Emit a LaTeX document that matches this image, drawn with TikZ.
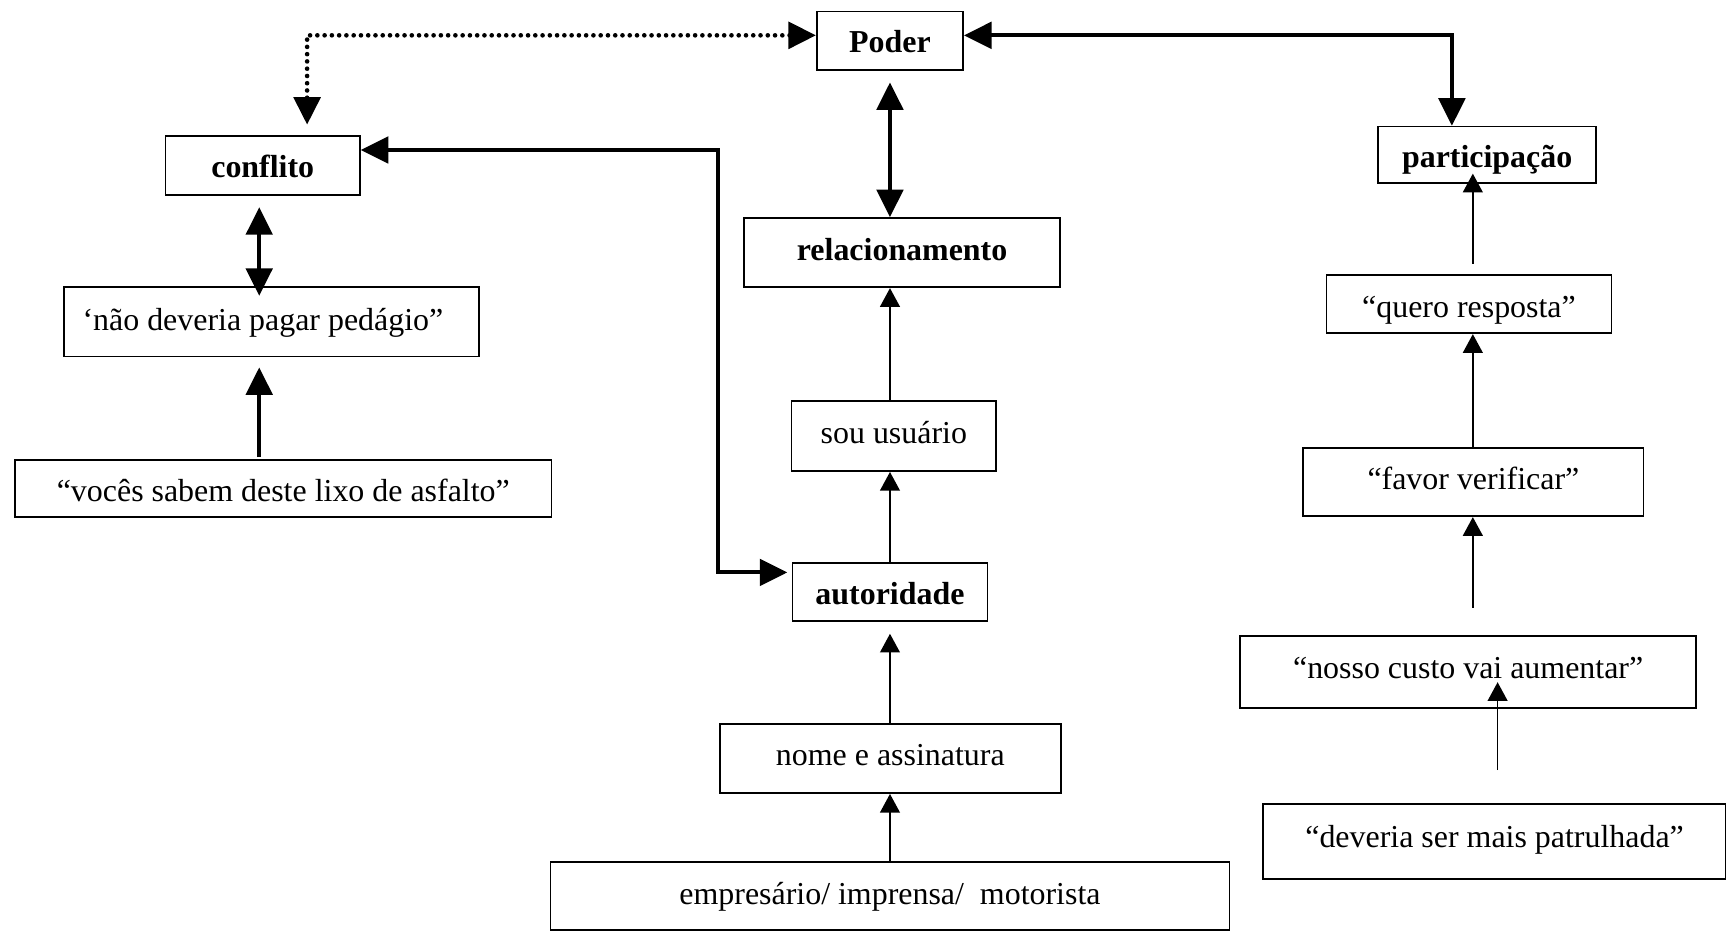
\documentclass[tikz,border=0pt]{standalone}
\usepackage{fontspec}
\setmainfont{Liberation Serif}
\usetikzlibrary{arrows.meta}
\begin{document}
\begin{tikzpicture}[x=1pt,y=-1pt,
  box/.style={draw, line width=1.5pt, rectangle, inner sep=0pt, text depth=0pt,
    font=\fontsize{29}{34}\selectfont},
  key/.style={box, font=\fontsize{29}{34}\selectfont\bfseries},
  link/.style={line width=1.5pt, -{Triangle[length=17pt,width=18pt]}},
  biglink/.style={line width=3.5pt,
    {Triangle[length=25pt,width=24pt]}-{Triangle[length=25pt,width=24pt]}},
  uplink/.style={line width=3.5pt, -{Triangle[length=25pt,width=24pt]}},
  dotlink/.style={line width=4.2pt, line cap=round, dash pattern=on 0pt off 6.6pt,
    {Triangle[length=25pt,width=24pt]}-{Triangle[length=25pt,width=24pt]}},
]
\useasboundingbox (0,0) rectangle (1568,846);

% central column
\node[key, minimum width=133pt, minimum height=53pt, text height=22pt] (poder) at (808.5,37.1) {Poder};
\node[key, minimum width=287pt, minimum height=63pt, text height=14pt] (relac) at (819.5,229.5) {relacionamento};
\node[box, minimum width=186pt, minimum height=64pt, text height=13pt] (usuario) at (812,396) {sou usuário};
\node[key, minimum width=177pt, minimum height=52.5pt, text height=22.5pt] (autoridade) at (808.5,537.75) {autoridade};
\node[box, minimum width=309.6pt, minimum height=62.8pt, text height=12.2pt] (nome) at (808.8,689.1) {nome e assinatura};
\node[box, minimum width=617pt, minimum height=62.2pt, text height=14.8pt] (empresario) at (808.5,813.9) {empresário/ imprensa/\ \ motorista};

% left column
\node[key, minimum width=176.6pt, minimum height=53.5pt, text height=21.5pt] (conflito) at (238.7,150.25) {conflito};
\node[box, inner xsep=17pt, minimum height=63pt, text height=15.2pt] (nao) at (246.5,292.5) {\makebox[343pt][l]{‘não deveria pagar pedágio”}};
\node[box, minimum width=487.3pt, minimum height=51.7pt, text height=23.3pt] (voces) at (257.35,443.85) {“vocês sabem deste lixo de asfalto”};

% right column
\node[key, minimum width=198pt, minimum height=51pt, text height=24pt] (particip) at (1351,140.5) {participação};
\node[box, minimum width=259pt, minimum height=52.8pt, text height=24.2pt] (quero) at (1334.5,276.4) {“quero resposta”};
\node[box, minimum width=309pt, minimum height=62pt, text height=13pt] (favor) at (1338.5,438) {“favor verificar”};
\node[box, minimum width=414.5pt, minimum height=65.2pt, text height=11.8pt] (nosso) at (1333.75,610.4) {“nosso custo vai aumentar”};
\node[box, minimum width=420.5pt, minimum height=68.2pt, text height=10.8pt] (deveria) at (1357.75,764.5) {“deveria ser mais patrulhada”};

% reference columns and bends for the connectors
\coordinate (lx) at (235.5,0);
\coordinate (rx) at (1338,0);
\coordinate (rx2) at (1360.5,0);
\coordinate (dotbend) at (279,0);
\coordinate (rightbend) at (1319,0);
\coordinate (midbend) at (652,520);

% links around Poder
\draw[dotlink, shorten >=9.5pt] ([yshift=5pt]poder.west) -| (conflito.north -| dotbend);
\draw[biglink] ([yshift=5pt]poder.east) -| (particip.north -| rightbend);
\draw[biglink, shorten <=10.5pt] (poder.south) -- (relac.north -| poder.south);
\draw[biglink, shorten >=4pt] ([yshift=14pt]conflito.east) -| (midbend) -- ([yshift=17.75pt]autoridade.west);

% central chain
\draw[link] (usuario.north -| autoridade.north) -- (relac.south -| autoridade.north);
\draw[link] (autoridade.north) -- (usuario.south -| autoridade.north);
\draw[link, shorten >=11pt] (nome.north -| autoridade.north) -- (autoridade.south);
\draw[link] (empresario.north -| autoridade.north) -- (nome.south -| autoridade.north);

% left chain
\draw[biglink, shorten <=10.5pt, shorten >=-8.5pt] (conflito.south -| lx) -- (nao.north -| lx);
\draw[uplink, shorten <=2pt, shorten >=9pt] (voces.north -| lx) -- (nao.south -| lx);

% right chain
\draw[link, shorten <=9.5pt, shorten >=-9pt] (quero.north -| rx) -- (particip.south -| rx);
\draw[link] (favor.north -| rx) -- (quero.south -| rx);
\draw[link, shorten <=25pt] (nosso.north -| rx) -- (favor.south -| rx);
\draw[link, shorten <=30pt, shorten >=-24pt] (deveria.north -| rx2) -- (nosso.south -| rx2);
\end{tikzpicture}
\end{document}
